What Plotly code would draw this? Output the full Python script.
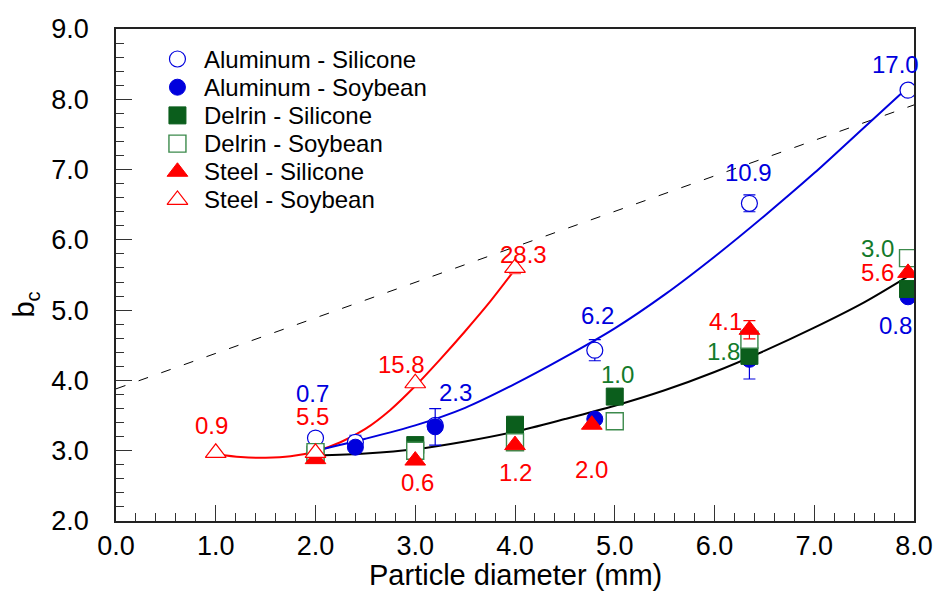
import plotly.graph_objects as go

# ---- measured data -------------------------------------------------------
al_si_x = [2.0, 2.4, 3.2, 4.8, 6.35, 7.94]
al_si_y = [3.18, 3.12, 3.36, 4.43, 6.52, 8.13]
al_si_err = [0.0, 0.10, 0.0, 0.15, 0.12, 0.08]

al_soy_x = [2.4, 3.2, 4.8, 6.35, 7.94]
al_soy_y = [3.05, 3.34, 3.45, 4.30, 5.19]
al_soy_err = [0.0, 0.26, 0.0, 0.28, 0.0]

de_si_x = [2.0, 3.0, 4.0, 5.0, 6.35, 7.94]
de_si_y = [2.95, 3.08, 3.37, 3.77, 4.35, 5.30]

de_soy_x = [2.0, 3.0, 4.0, 5.0, 6.35, 7.94]
de_soy_y = [2.98, 3.00, 3.12, 3.42, 4.58, 5.74]

st_si_x = [2.0, 3.0, 4.0, 4.77, 6.35, 7.94]
st_si_y = [2.88, 2.86, 3.08, 3.37, 4.72, 5.53]
st_si_err = [0.0, 0.0, 0.0, 0.0, 0.13, 0.0]

st_soy_x = [1.0, 2.0, 3.0, 4.0]
st_soy_y = [2.97, 2.97, 3.96, 5.60]
st_soy_err = [0.0, 0.0, 0.0, 0.08]

# fitted trend curves, sampled along each curve
red_fit_x = [1.0, 1.25, 1.5, 1.75, 2.0, 2.25, 2.5, 2.75, 3.0, 3.25, 3.5, 3.75, 4.0]
red_fit_y = [2.95, 2.91, 2.90, 2.92, 2.99, 3.12, 3.31, 3.58, 3.92, 4.30, 4.70, 5.12, 5.58]

blue_fit_x = [2.0, 2.5, 3.0, 3.5, 4.0, 4.5, 5.0, 5.5, 6.0, 6.5, 7.0, 7.5, 7.94]
blue_fit_y = [3.00, 3.17, 3.36, 3.61, 3.95, 4.33, 4.74, 5.22, 5.76, 6.34, 6.95, 7.60, 8.17]

black_fit_x = [2.0, 2.5, 3.0, 3.5, 4.0, 4.5, 5.0, 5.5, 6.0, 6.5, 7.0, 7.5, 7.94]
black_fit_y = [2.93, 2.96, 3.02, 3.13, 3.27, 3.45, 3.64, 3.86, 4.12, 4.42, 4.75, 5.11, 5.48]

dash_x = [0.0, 8.0]
dash_y = [3.88, 7.92]

# point annotations: (text, x, y, colour key, xshift, yshift)
point_labels = [
    ("0.9", 1.0, 2.97, "red", -4, 27),
    ("5.5", 2.0, 2.97, "red", -3, 36),
    ("0.7", 2.0, 3.18, "blue", -3, 45),
    ("15.8", 3.0, 3.96, "red", -14, 19),
    ("28.3", 4.0, 5.60, "red", 8, 13),
    ("2.3", 3.2, 3.34, "blue", 20, 34),
    ("0.6", 3.0, 2.86, "red", 2, -22),
    ("1.2", 4.0, 3.08, "red", 0, -27),
    ("2.0", 4.77, 3.37, "red", 0, -45),
    ("6.2", 4.8, 4.43, "blue", 3, 35),
    ("1.0", 5.0, 3.77, "green", 3, 22),
    ("4.1", 6.35, 4.72, "red", -24, 8),
    ("1.8", 6.35, 4.35, "green", -26, 4),
    ("10.9", 6.35, 6.52, "blue", -1, 31),
    ("17.0", 7.94, 8.13, "blue", -13, 26),
    ("3.0", 7.94, 5.74, "green", -31, 10),
    ("5.6", 7.94, 5.53, "red", -31, 0),
    ("0.8", 7.94, 5.19, "blue", -13, -29),
]

series_names = ["Aluminum - Silicone", "Aluminum - Soybean", "Delrin - Silicone",
                "Delrin - Soybean", "Steel - Silicone", "Steel - Soybean"]

x_ticks = [0, 1, 2, 3, 4, 5, 6, 7, 8]
y_ticks = [2, 3, 4, 5, 6, 7, 8, 9]

# ---- styling -------------------------------------------------------------
FONT = "Liberation Sans, Arial, sans-serif"
BLUE = "#0000dd"
GREEN = "#0b5e1c"
RED = "#ff0000"
LABEL_COLORS = {"blue": "#0000dd", "green": "#137a2a", "red": "#ff0000"}
MSIZE = 16

markers = [
    dict(symbol="circle", size=MSIZE, color="white", line=dict(color=BLUE, width=1.2)),
    dict(symbol="circle", size=MSIZE, color=BLUE, line=dict(color=BLUE, width=1)),
    dict(symbol="square", size=MSIZE + 1, color=GREEN, line=dict(color=GREEN, width=1)),
    dict(symbol="square", size=MSIZE + 1, color="white", line=dict(color="#3c8a4c", width=1.4)),
    dict(symbol="triangle-up", size=MSIZE + 2, color=RED, line=dict(color=RED, width=1)),
    dict(symbol="triangle-up", size=MSIZE + 2, color="white", line=dict(color=RED, width=1.2)),
]

# legend block placement (paper fractions of the plot area)
LEG_MARK_X = 0.077
LEG_TEXT_X = 0.108
LEG_TOP = 0.939
LEG_STEP = 0.0573

fig = go.Figure()

# trend curves
fig.add_trace(go.Scatter(x=dash_x, y=dash_y, mode="lines", showlegend=False,
                         line=dict(color="black", width=1, dash="10px,14px")))
fig.add_trace(go.Scatter(x=red_fit_x, y=red_fit_y, mode="lines", showlegend=False,
                         line=dict(color=RED, width=2, shape="spline", smoothing=0.8)))
fig.add_trace(go.Scatter(x=blue_fit_x, y=blue_fit_y, mode="lines", showlegend=False,
                         line=dict(color=BLUE, width=2, shape="spline", smoothing=0.8)))
fig.add_trace(go.Scatter(x=black_fit_x, y=black_fit_y, mode="lines", showlegend=False,
                         line=dict(color="black", width=2, shape="spline", smoothing=0.8)))


def err(arr, color):
    return dict(type="data", array=arr, visible=True, color=color,
                thickness=1.2, width=6)


series = [
    (al_si_x, al_si_y, err(al_si_err, BLUE)),
    (al_soy_x, al_soy_y, err(al_soy_err, BLUE)),
    (de_si_x, de_si_y, None),
    (de_soy_x, de_soy_y, None),
    (st_si_x, st_si_y, err(st_si_err, RED)),
    (st_soy_x, st_soy_y, err(st_soy_err, "#ff6060")),
]

for (xs, ys, ebar), name, mk in zip(series, series_names, markers):
    fig.add_trace(go.Scatter(x=xs, y=ys, mode="markers", name=name,
                             showlegend=False, error_y=ebar, marker=mk))

# legend key symbols on an overlay axis spanning the plot area in [0, 1]
for i, (name, mk) in enumerate(zip(series_names, markers)):
    fig.add_trace(go.Scatter(x=[LEG_MARK_X], y=[LEG_TOP - i * LEG_STEP],
                             xaxis="x2", yaxis="y2", mode="markers",
                             marker=mk, showlegend=False, hoverinfo="skip"))

annotations = []
for i, name in enumerate(series_names):
    annotations.append(dict(
        x=LEG_TEXT_X, y=LEG_TOP - i * LEG_STEP, xref="paper", yref="paper",
        text=name, showarrow=False, xanchor="left", yanchor="middle",
        font=dict(family=FONT, size=24, color="black")))

for text, x, y, ck, dx, dy in point_labels:
    annotations.append(dict(
        x=x, y=y, xref="x", yref="y", text=text, showarrow=False,
        xshift=dx, yshift=dy, font=dict(family=FONT, size=24, color=LABEL_COLORS[ck])))

# axis titles
annotations.append(dict(
    x=0.5, y=-0.11, xref="paper", yref="paper", text="Particle diameter (mm)",
    showarrow=False, xanchor="center", yanchor="middle",
    font=dict(family=FONT, size=29, color="black")))
annotations.append(dict(
    x=-0.114, y=0.44, xref="paper", yref="paper", text="b<sub>c</sub>",
    showarrow=False, textangle=-90, xanchor="center", yanchor="middle",
    font=dict(family=FONT, size=29, color="black")))

axis_common = dict(
    showline=True, linecolor="#222222", linewidth=1.5, mirror=True,
    ticks="inside", ticklen=16, tickwidth=1, tickcolor="#333333",
    showgrid=False, zeroline=False, tickformat=".1f",
    tickfont=dict(family=FONT, size=27, color="black"),
    minor=dict(ticks="inside", ticklen=8, tickwidth=1, tickcolor="#333333", dtick=0.2),
)

fig.update_layout(
    width=945, height=605,
    margin=dict(l=116, r=22, t=29, b=84),
    paper_bgcolor="white", plot_bgcolor="white",
    font=dict(family=FONT, color="black"),
    showlegend=False,
    xaxis=dict(range=[0, 8], tickvals=x_ticks, **axis_common),
    yaxis=dict(range=[2, 9], tickvals=y_ticks, ticklabelstandoff=20, **axis_common),
    xaxis2=dict(range=[0, 1], overlaying="x", anchor="y2", visible=False, fixedrange=True),
    yaxis2=dict(range=[0, 1], overlaying="y", anchor="x2", visible=False, fixedrange=True),
    annotations=annotations,
)

fig.write_html("out.html")
